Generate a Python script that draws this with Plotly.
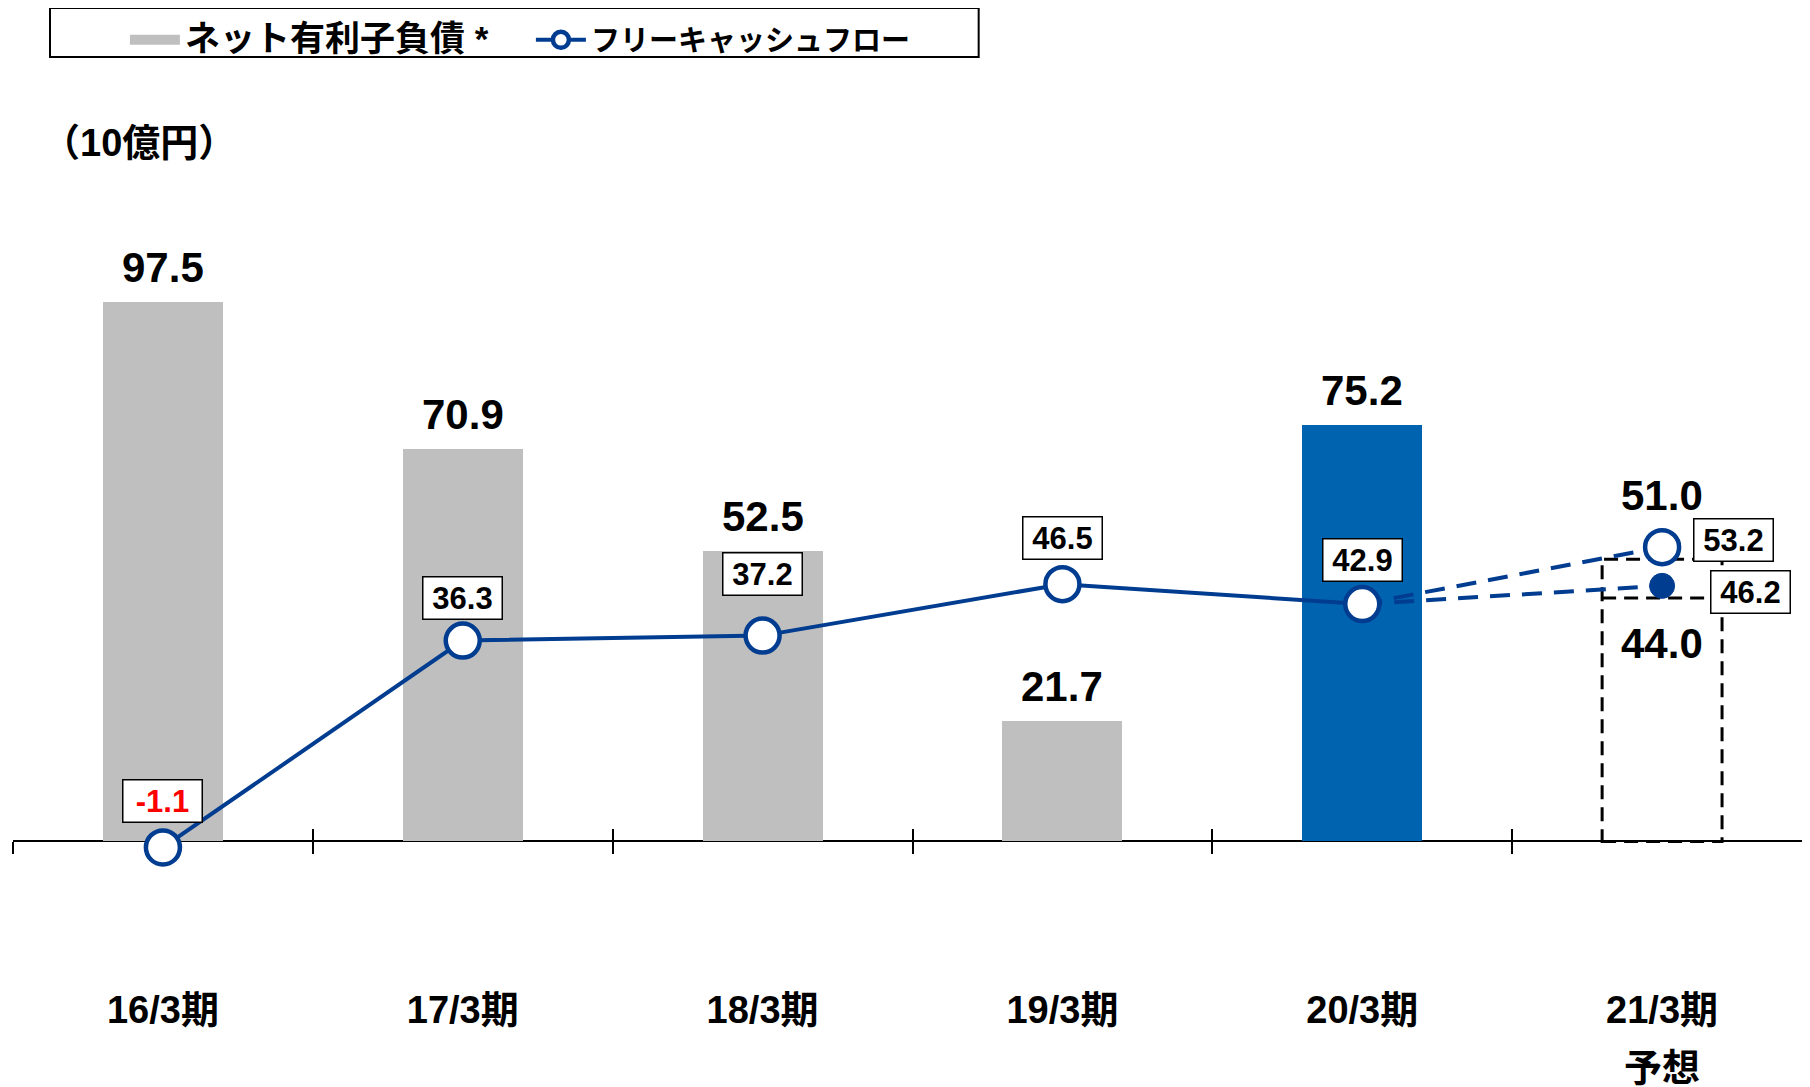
import plotly.graph_objects as go

# --- data (10億円) ---
periods = ["16/3期", "17/3期", "18/3期", "19/3期", "20/3期", "21/3期"]
forecast_note = "予想"
net_debt = [97.5, 70.9, 52.5, 21.7, 75.2]
net_debt_forecast = [44.0, 51.0]          # lower line, top of box
fcf = [-1.1, 36.3, 37.2, 46.5, 42.9]
fcf_forecast = [53.2, 46.2]               # open circle, filled circle

FONT = "Liberation Sans, Arial, Noto Sans CJK JP, sans-serif"
GRAY = "#BFBFBF"
BLUE_BAR = "#0063AF"
NAVY = "#003C8F"
BAR_W = 0.4
Y_RANGE = [-20, 125]

xs = list(range(len(periods)))
n_act = len(net_debt)
fx = xs[n_act]  # forecast position

bar_colors = [GRAY] * (n_act - 1) + [BLUE_BAR]
fcf_label_shift = [46, 43, 62, 46, 44]
fcf_fc_shift = [(71, 7), (88, -6)]

fig = go.Figure()

# --- bars: net interest-bearing debt ---
fig.add_trace(go.Bar(
    x=xs[:n_act], y=net_debt, width=BAR_W,
    marker=dict(color=bar_colors, line=dict(width=0)),
    showlegend=False, hoverinfo="skip"
))

# legend stand-in for the bars (wide grey swatch)
fig.add_trace(go.Scatter(
    x=[None], y=[None], mode="lines",
    line=dict(color=GRAY, width=18),
    name="<span style='font-size:35px'>ネット有利子負債 *</span>", xaxis="x2"
))

# --- forecast dashed lines ---
for val in fcf_forecast:
    fig.add_trace(go.Scatter(
        x=[xs[n_act - 1], fx], y=[fcf[-1], val], mode="lines",
        line=dict(color=NAVY, width=4, dash="20px,12px"),
        showlegend=False, hoverinfo="skip"
    ))

# --- free cash flow actuals ---
fig.add_trace(go.Scatter(
    x=xs[:n_act], y=fcf, mode="lines+markers",
    name="フリーキャッシュフロー",
    line=dict(color=NAVY, width=4),
    marker=dict(symbol="circle", size=34, color="white",
                line=dict(color=NAVY, width=4.5)),
))

# --- forecast markers ---
fig.add_trace(go.Scatter(
    x=[fx], y=fcf_forecast[:1], mode="markers",
    marker=dict(size=34, color="white", opacity=1,
                line=dict(color=NAVY, width=4.5)),
    showlegend=False, hoverinfo="skip"
))
fig.add_trace(go.Scatter(
    x=[fx], y=fcf_forecast[1:], mode="markers",
    marker=dict(size=25, color=NAVY, opacity=1,
                line=dict(color=NAVY, width=1)),
    showlegend=False, hoverinfo="skip"
))

# --- forecast dashed box ---
shapes = [
    dict(type="rect", xref="x", yref="y", layer="below",
         x0=fx - BAR_W / 2, x1=fx + BAR_W / 2, y0=0, y1=net_debt_forecast[1],
         line=dict(color="black", width=3, dash="14px,8px")),
    dict(type="line", xref="x", yref="y", layer="below",
         x0=fx - BAR_W / 2, x1=fx + BAR_W / 2,
         y0=net_debt_forecast[0], y1=net_debt_forecast[0],
         line=dict(color="black", width=3, dash="14px,8px")),
    # legend frame
    dict(type="rect", xref="paper", yref="paper",
         x0=0.0205, x1=0.535, y0=1.116, y1=1.177,
         line=dict(color="black", width=2)),
]

annotations = []
big = dict(family=FONT, size=42, color="black", weight="bold")
box = dict(family=FONT, size=31, color="black", weight="bold")

for x, v in zip(xs, net_debt):
    annotations.append(dict(x=x, y=v, text=f"{v:.1f}", showarrow=False,
                            yshift=35, font=big))
annotations.append(dict(x=fx, y=net_debt_forecast[1],
                        text=f"{net_debt_forecast[1]:.1f}", showarrow=False,
                        yshift=64, font=big))
annotations.append(dict(x=fx, y=net_debt_forecast[0],
                        text=f"{net_debt_forecast[0]:.1f}", showarrow=False,
                        yshift=-45, font=big))

for x, v, s in zip(xs, fcf, fcf_label_shift):
    f = dict(box)
    if v < 0:
        f["color"] = "#FF0000"
    annotations.append(dict(x=x, y=v, text=f"{v:.1f}", showarrow=False,
                            yshift=s, font=f, bgcolor="white",
                            bordercolor="black", borderwidth=1.5,
                            borderpad=3, width=72))
for v, (dx, dy) in zip(fcf_forecast, fcf_fc_shift):
    annotations.append(dict(x=fx, y=v, text=f"{v:.1f}", showarrow=False,
                            xshift=dx, yshift=dy, font=box, bgcolor="white",
                            bordercolor="black", borderwidth=1.5,
                            borderpad=3, width=72))

# unit label and forecast note
annotations.append(dict(xref="paper", yref="paper", x=0.0147, y=1.0087,
                        xanchor="left", yanchor="middle", showarrow=False,
                        text="（10億円）",
                        font=dict(family=FONT, size=38, color="black", weight="bold")))
annotations.append(dict(x=fx, yref="paper", y=-0.1446, yanchor="middle",
                        showarrow=False, text=forecast_note,
                        font=dict(family=FONT, size=38, color="black", weight="bold")))

bounds = [x - 0.5 for x in xs] + [xs[-1] + 0.5]
x_range = [-0.5, 5.52]
axis_pos = (0 - Y_RANGE[0]) / (Y_RANGE[1] - Y_RANGE[0])

fig.update_layout(
    width=1810, height=1087,
    margin=dict(l=5, r=0, t=142, b=143),
    plot_bgcolor="white", paper_bgcolor="white",
    font=dict(family=FONT, color="black"),
    shapes=shapes, annotations=annotations,
    showlegend=True,
    legend=dict(orientation="h", x=0.062, y=1.169, xanchor="left", yanchor="top",
                font=dict(family=FONT, size=29, color="black", weight="bold"),
                bgcolor="rgba(0,0,0,0)", itemwidth=50, traceorder="normal",
                entrywidth=341),
    xaxis=dict(range=x_range, tickmode="array", tickvals=xs,
               ticktext=periods, ticks="", showgrid=False, zeroline=False,
               showline=True, linecolor="black", linewidth=2,
               anchor="free", position=axis_pos,
               layer="below traces", ticklabelstandoff=135,
               tickfont=dict(family=FONT, size=38, color="black", weight="bold"),
               minor=dict(ticks="outside", tickmode="array", tickvals=bounds,
                          ticklen=12, tickwidth=1.5, tickcolor="black",
                          showgrid=False)),
    xaxis2=dict(overlaying="x", anchor="free", position=axis_pos, range=x_range,
                tickmode="array", tickvals=bounds, ticks="inside",
                ticklen=12, tickwidth=1.5, tickcolor="black",
                showticklabels=False, showgrid=False, zeroline=False,
                showline=False, layer="below traces"),
    yaxis=dict(range=Y_RANGE, visible=False, showgrid=False, zeroline=False),
    bargap=0,
)

fig.write_html("out.html")
